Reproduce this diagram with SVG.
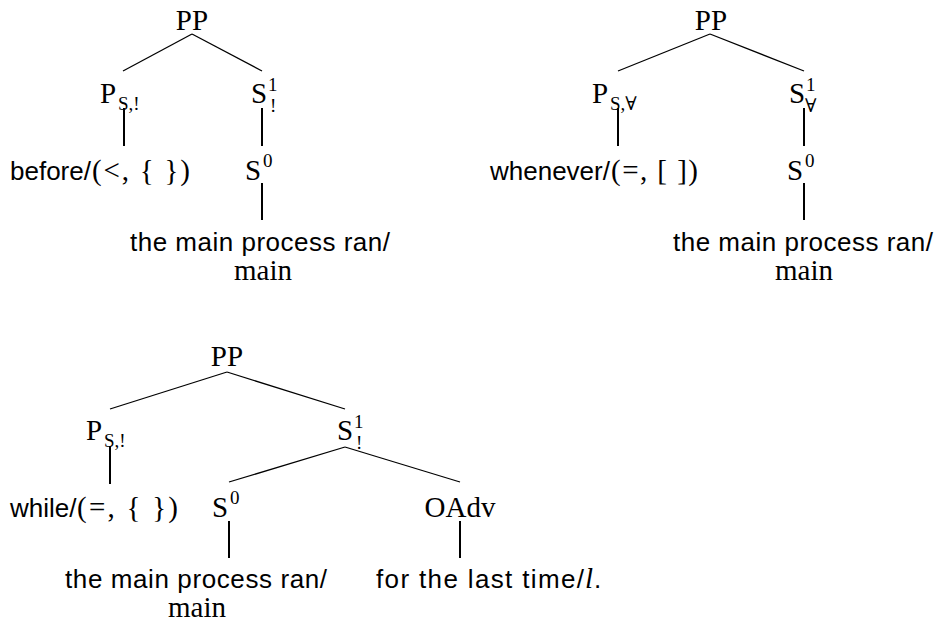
<svg xmlns="http://www.w3.org/2000/svg" width="938" height="625" viewBox="0 0 938 625">
<style>
.rm{font-family:"Liberation Serif","DejaVu Serif","Times New Roman",serif;font-size:29px;fill:#000}
.sf{font-family:"Liberation Sans","DejaVu Sans",Arial,sans-serif;font-size:26px;fill:#000}
.sm{font-family:"Liberation Serif","DejaVu Serif","Times New Roman",serif;font-size:19px;fill:#000}
.it{font-style:italic}
.edge{stroke:#000;stroke-width:1.3;fill:none}
.stem{stroke:#000;stroke-width:2;fill:none}
</style>
<rect width="938" height="625" fill="#fff"/>
<g id="connectors">
  <line class="edge" x1="192" y1="34" x2="123" y2="71"/>
  <line class="edge" x1="192" y1="34" x2="262" y2="71"/>
  <line class="stem" x1="124" y1="108" x2="124" y2="146"/>
  <line class="stem" x1="262" y1="108" x2="262" y2="146"/>
  <line class="stem" x1="262" y1="183" x2="262" y2="220"/>
  <line class="edge" x1="710" y1="34" x2="618" y2="71"/>
  <line class="edge" x1="710" y1="34" x2="804" y2="71"/>
  <line class="stem" x1="618" y1="108" x2="618" y2="146"/>
  <line class="stem" x1="804" y1="108" x2="804" y2="146"/>
  <line class="stem" x1="804" y1="183" x2="804" y2="220"/>
  <line class="edge" x1="227" y1="372" x2="110" y2="409"/>
  <line class="edge" x1="227" y1="372" x2="345" y2="409"/>
  <line class="stem" x1="110" y1="446" x2="110" y2="484"/>
  <line class="edge" x1="345" y1="447" x2="229" y2="482"/>
  <line class="edge" x1="345" y1="447" x2="460" y2="482"/>
  <line class="stem" x1="229" y1="521" x2="229" y2="558"/>
  <line class="stem" x1="460" y1="521" x2="460" y2="558"/>
</g>
<g id="t1-pp"><text class="rm" x="192" y="30" text-anchor="middle">PP</text></g>
<g id="t1-p"><text class="rm" x="100" y="103">P</text><text class="sm" x="118" y="110">S,!</text></g>
<g id="t1-s1"><text class="rm" x="251" y="103">S</text><text class="sm" x="268" y="91">1</text><text class="sm" x="270" y="112">!</text></g>
<g id="t1-before"><text class="sf" x="10" y="180">before/</text><text class="rm" x="92" y="180" textLength="98">(&lt;, {  })</text></g>
<g id="t1-s0"><text class="rm" x="245" y="180">S</text><text class="sm" x="263" y="167">0</text></g>
<g id="t1-leaf"><text class="sf" x="130" y="251" textLength="260">the main process ran/</text><text class="rm" x="263" y="280" text-anchor="middle">main</text></g>

<g id="t2-pp"><text class="rm" x="711" y="30" text-anchor="middle">PP</text></g>
<g id="t2-p"><text class="rm" x="592" y="103">P</text><text class="sm" x="610" y="110">S,∀</text></g>
<g id="t2-s1"><text class="rm" x="789" y="103">S</text><text class="sm" x="806" y="91">1</text><text class="sm" x="805" y="112">∀</text></g>
<g id="t2-whenever"><text class="sf" x="490" y="180">whenever/</text><text class="rm" x="611" y="180" textLength="87">(=, [ ])</text></g>
<g id="t2-s0"><text class="rm" x="787" y="180">S</text><text class="sm" x="805" y="167">0</text></g>
<g id="t2-leaf"><text class="sf" x="673" y="251" textLength="260">the main process ran/</text><text class="rm" x="804" y="280" text-anchor="middle">main</text></g>

<g id="t3-pp"><text class="rm" x="227" y="366" text-anchor="middle">PP</text></g>
<g id="t3-p"><text class="rm" x="86" y="440">P</text><text class="sm" x="104" y="447">S,!</text></g>
<g id="t3-s1"><text class="rm" x="337" y="440">S</text><text class="sm" x="354" y="428">1</text><text class="sm" x="356" y="449">!</text></g>
<g id="t3-while"><text class="sf" x="10" y="517">while/</text><text class="rm" x="77" y="517" textLength="101">(=, {  })</text></g>
<g id="t3-s0"><text class="rm" x="212" y="517">S</text><text class="sm" x="230" y="504">0</text></g>
<g id="t3-oadv"><text class="rm" x="460" y="517" text-anchor="middle">OAdv</text></g>
<g id="t3-leaf1"><text class="sf" x="65" y="588" textLength="262">the main process ran/</text><text class="rm" x="197" y="617" text-anchor="middle">main</text></g>
<g id="t3-leaf2"><text class="sf" x="376" y="588" textLength="208">for the last time/</text><text class="rm it" x="585" y="588">l</text><text class="sf" x="594" y="588">.</text></g>
</svg>
